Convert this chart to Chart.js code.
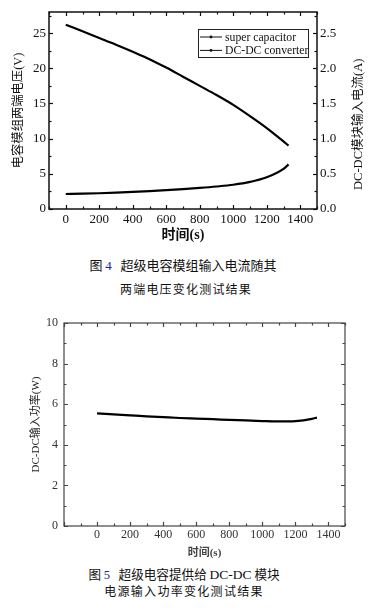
<!DOCTYPE html>
<html>
<head>
<meta charset="utf-8">
<script src="https://cdn.jsdelivr.net/npm/chart.js@4/dist/chart.umd.min.js"></script>
<style>
  body { margin: 0; background: #fff; }
  #wrap { position: relative; width: 376px; height: 611px; overflow: hidden; }
  canvas { position: absolute; left: 0; }
  .cap { position: absolute; left: 0; width: 376px; text-align: center; white-space: nowrap;
         font-family: "Noto Sans CJK SC", sans-serif; color: #111; line-height: 1; }
  .serif { font-family: "Liberation Serif", serif; }
</style>
</head>
<body>
<div id="wrap">
  <canvas id="c1" width="376" height="245" style="top:0"></canvas>
  <div class="cap" style="top:258px; font-size:13px; left:-5px">图 <span class="serif" style="color:#1a2a80">4</span>&nbsp;&nbsp;&nbsp;超级电容模组输入电流随其</div>
  <div class="cap" style="top:283px; font-size:12px; letter-spacing:1.2px; left:-2px">两端电压变化测试结果</div>
  <canvas id="c2" width="376" height="260" style="top:300px"></canvas>
  <div class="cap" style="top:568px; font-size:12.6px; left:-4px">图 <span class="serif" style="color:#1a2a80">5</span>&nbsp;&nbsp;&nbsp;超级电容提供给 <span class="serif" style="font-size:13.5px">DC-DC</span> 模块</div>
  <div class="cap" style="top:585px; font-size:12px; letter-spacing:1.3px; left:-4px">电源输入功率变化测试结果</div>
</div>
<script>
// figure 4 data
const time4 = [0, 100, 200, 300, 400, 500, 600, 700, 800, 900, 1000, 1100, 1200, 1300, 1330];
const capVoltage = [26.2, 25.25, 24.3, 23.35, 22.35, 21.3, 20.1, 18.8, 17.5, 16.2, 14.8, 13.2, 11.5, 9.6, 9.0];
const dcdcCurrent = [0.213, 0.218, 0.224, 0.232, 0.242, 0.254, 0.268, 0.283, 0.30, 0.32, 0.345, 0.385, 0.45, 0.57, 0.635];
const xTicks4 = [0, 200, 400, 600, 800, 1000, 1200, 1400];
const yTicksLeft4 = [0, 5, 10, 15, 20, 25];
const yTicksRight4 = [0, 0.5, 1.0, 1.5, 2.0, 2.5];

// figure 5 data
const time5 = [0, 100, 200, 300, 400, 500, 600, 700, 800, 900, 1000, 1100, 1200, 1300, 1330];
const inputPower = [5.55, 5.5, 5.45, 5.4, 5.36, 5.32, 5.29, 5.26, 5.23, 5.2, 5.17, 5.15, 5.17, 5.28, 5.34];
const xTicks5 = [0, 200, 400, 600, 800, 1000, 1200, 1400];
const yTicks5 = [0, 2, 4, 6, 8, 10];

const serif = '"Liberation Serif", "Times New Roman", serif';
const cjk = '"Liberation Serif", "Noto Sans CJK SC", serif';

function setTicks(list) {
  return function (scale) { scale.ticks = list.map(v => ({ value: v })); };
}
function fixSize(w, h) {
  return function (scale) {
    if (w != null) scale.width = w;
    if (h != null) scale.height = h;
  };
}
const plain = v => String(v);

// box around plot + inward major/minor ticks on all sides
const frameTicks = {
  id: 'frameTicks',
  afterDatasetsDraw(chart, args, o) {
    const ctx = chart.ctx, a = chart.chartArea;
    ctx.save();
    ctx.strokeStyle = o.color;
    ctx.lineWidth = o.width;
    ctx.strokeRect(a.left, a.top, a.right - a.left, a.bottom - a.top);
    ctx.lineWidth = 1.2;
    const marks = (scale, step, major, horiz) => {
      const start = Math.ceil(scale.min / step) * step;
      for (let v = start; v <= scale.max + 1e-9; v += step) {
        const isMajor = Math.abs(v / major - Math.round(v / major)) < 1e-6;
        const len = isMajor ? o.major : o.minor;
        const p = Math.round(scale.getPixelForValue(v)) + 0.5;
        ctx.beginPath();
        if (horiz) {
          ctx.moveTo(p, a.bottom); ctx.lineTo(p, a.bottom - len);
          ctx.moveTo(p, a.top); ctx.lineTo(p, a.top + len);
        } else if (scale.position === 'right') {
          ctx.moveTo(a.right, p); ctx.lineTo(a.right - len, p);
        } else {
          ctx.moveTo(a.left, p); ctx.lineTo(a.left + len, p);
          if (o.mirror) { ctx.moveTo(a.right, p); ctx.lineTo(a.right - len, p); }
        }
        ctx.stroke();
      }
    };
    for (const s of o.scales) marks(chart.scales[s.id], s.minor, s.major, s.horiz);
    ctx.restore();
  }
};

// legend box inside plot with "—•—" markers, plus right axis title read bottom-to-top
const boxLegend = {
  id: 'boxLegend',
  afterDraw(chart, args, o) {
    if (!o.show) return;
    const ctx = chart.ctx, a = chart.chartArea;
    const x = a.right - o.right - o.w, y = a.top + o.top;
    ctx.save();
    ctx.strokeStyle = '#222';
    ctx.lineWidth = 1;
    ctx.strokeRect(Math.round(x) + 0.5, Math.round(y) + 0.5, o.w, o.h);
    ctx.font = '11.7px ' + serif;
    ctx.fillStyle = '#111';
    ctx.textBaseline = 'middle';
    chart.data.datasets.forEach((ds, i) => {
      const cy = y + 8 + i * 13.4;
      ctx.beginPath();
      ctx.strokeStyle = '#111';
      ctx.moveTo(x + 2, cy); ctx.lineTo(x + 24, cy);
      ctx.stroke();
      ctx.beginPath();
      ctx.arc(x + 13, cy, 1.4, 0, Math.PI * 2);
      ctx.fill();
      ctx.fillText(ds.label, x + 27, cy + 0.5);
    });
    if (o.rightTitle) {
      const s = chart.scales.y2;
      ctx.translate(s.right - o.rightTitleOffset, a.top + (a.bottom - a.top) * o.rightTitleFrac);
      ctx.rotate(-Math.PI / 2);
      ctx.textAlign = 'center';
      ctx.font = '12.5px ' + cjk;
      ctx.fillText(o.rightTitle, 0, 0);
    }
    ctx.restore();
  }
};

new Chart(document.getElementById('c1'), {
  type: 'line',
  data: {
    datasets: [
      { label: 'super capacitor', data: time4.map((t, i) => ({ x: t, y: capVoltage[i] })),
        yAxisID: 'y', borderColor: '#000', borderWidth: 2.2, pointRadius: 0, cubicInterpolationMode: 'monotone' },
      { label: 'DC-DC converter', data: time4.map((t, i) => ({ x: t, y: dcdcCurrent[i] })),
        yAxisID: 'y2', borderColor: '#000', borderWidth: 2.2, pointRadius: 0, cubicInterpolationMode: 'monotone' }
    ]
  },
  options: {
    responsive: false,
    animation: false,
    layout: { padding: { top: 12, left: 0, right: 0, bottom: 0 } },
    plugins: {
      legend: { display: false },
      tooltip: { enabled: false },
      frameTicks: { color: '#111', width: 1.5, major: 4, minor: 2.5, mirror: false,
        scales: [{ id: 'x', minor: 100, major: 200, horiz: true },
                 { id: 'y', minor: 2.5, major: 5 },
                 { id: 'y2', minor: 0.25, major: 0.5 }] },
      boxLegend: { show: true, right: 9, top: 17, w: 110, h: 28,
                   rightTitle: 'DC-DC模块输入电流(A)', rightTitleOffset: 17, rightTitleFrac: 0.57 }
    },
    scales: {
      x: {
        type: 'linear', min: -100, max: 1500,
        afterBuildTicks: setTicks(xTicks4), afterFit: fixSize(null, 36),
        grid: { display: false, drawTicks: false }, border: { display: false },
        ticks: { font: { family: serif, size: 13 }, color: '#111', padding: 3, maxRotation: 0, callback: plain },
        title: { display: true, text: '时间(s)', color: '#111', padding: { top: 0, bottom: 1 },
                 font: { family: cjk, size: 14, weight: 'bold' } }
      },
      y: {
        position: 'left', min: 0, max: 28,
        afterBuildTicks: setTicks(yTicksLeft4), afterFit: fixSize(49, null),
        grid: { display: false, drawTicks: false }, border: { display: false },
        ticks: { font: { family: serif, size: 13 }, color: '#111', padding: 3, callback: plain },
        title: { display: true, text: '电容模组两端电压(V)', color: '#111', padding: { top: 11, bottom: 0 },
                 font: { family: cjk, size: 12.3 } }
      },
      y2: {
        position: 'right', min: 0, max: 2.8,
        afterBuildTicks: setTicks(yTicksRight4), afterFit: fixSize(59, null),
        grid: { display: false, drawTicks: false }, border: { display: false },
        ticks: { font: { family: serif, size: 13 }, color: '#111', padding: 3, callback: v => v.toFixed(1) },
        title: { display: false }
      }
    }
  },
  plugins: [frameTicks, boxLegend]
});

new Chart(document.getElementById('c2'), {
  type: 'line',
  data: {
    datasets: [
      { label: 'DC-DC输入功率', data: time5.map((t, i) => ({ x: t, y: inputPower[i] })),
        borderColor: '#000', borderWidth: 2.2, pointRadius: 0, cubicInterpolationMode: 'monotone' }
    ]
  },
  options: {
    responsive: false,
    animation: false,
    layout: { padding: { top: 23, left: 0, right: 31, bottom: 0 } },
    plugins: {
      legend: { display: false },
      tooltip: { enabled: false },
      frameTicks: { color: '#444', width: 1.2, major: 4, minor: 2.5, mirror: true,
        scales: [{ id: 'x', minor: 100, major: 200, horiz: true },
                 { id: 'y', minor: 1, major: 2 }] },
      boxLegend: { show: false }
    },
    scales: {
      x: {
        type: 'linear', min: -200, max: 1500,
        afterBuildTicks: setTicks(xTicks5), afterFit: fixSize(null, 34),
        grid: { display: false, drawTicks: false }, border: { display: false },
        ticks: { font: { family: serif, size: 12 }, color: '#333', padding: 2, maxRotation: 0, callback: plain },
        title: { display: true, text: '时间(s)', color: '#444', padding: { top: 0, bottom: 0 },
                 font: { family: cjk, size: 11, weight: 'bold' } }
      },
      y: {
        position: 'left', min: 0, max: 10,
        afterBuildTicks: setTicks(yTicks5), afterFit: fixSize(64, null),
        grid: { display: false, drawTicks: false }, border: { display: false },
        ticks: { font: { family: serif, size: 12 }, color: '#333', padding: 6, callback: plain },
        title: { display: true, text: 'DC-DC输入功率(W)', color: '#222', padding: { top: 30, bottom: 0 },
                 font: { family: cjk, size: 11 } }
      }
    }
  },
  plugins: [frameTicks, boxLegend]
});
</script>
</body>
</html>
